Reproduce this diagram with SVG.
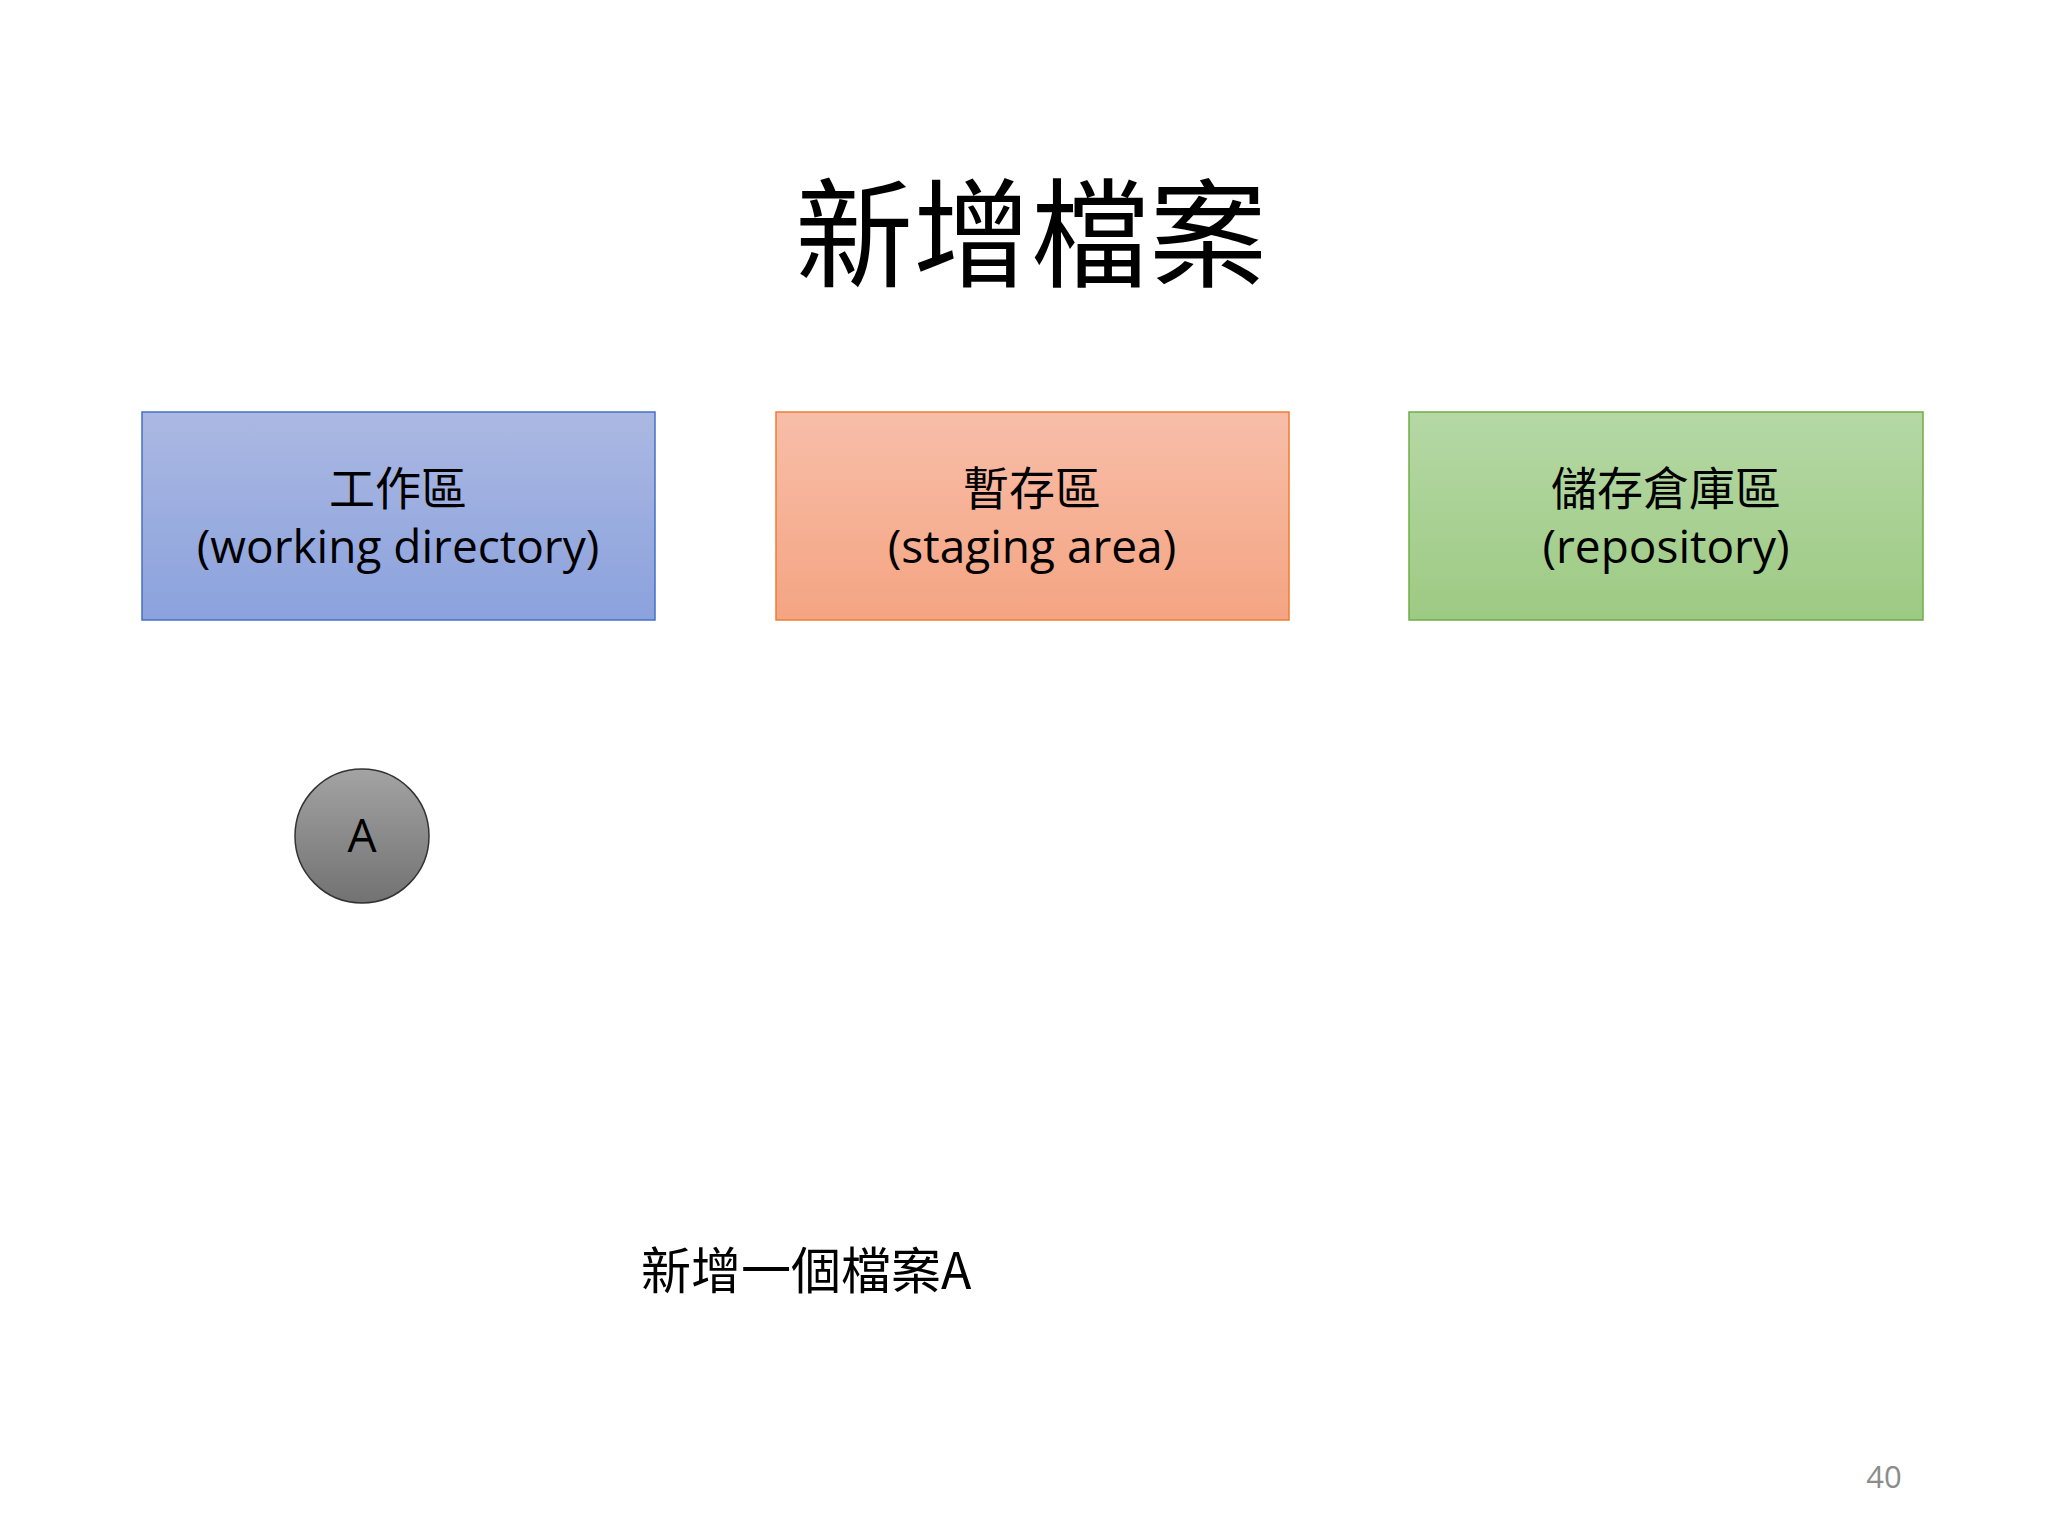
<svg xmlns="http://www.w3.org/2000/svg" width="2048" height="1536" viewBox="0 0 2048 1536">
<style>
.t{font-family:"Noto Sans CJK TC","Liberation Sans",sans-serif;fill:#000}
.b{font-family:"Open Sans","Noto Sans CJK TC",sans-serif;font-size:46px;text-anchor:middle;fill:#000}
</style>
<defs>
<linearGradient id="gb" x1="0" y1="0" x2="0" y2="1"><stop offset="0" stop-color="#abb8e2"/><stop offset="1" stop-color="#8ba2dd"/></linearGradient>
<linearGradient id="go" x1="0" y1="0" x2="0" y2="1"><stop offset="0" stop-color="#f8bea9"/><stop offset="1" stop-color="#f4a482"/></linearGradient>
<linearGradient id="gg" x1="0" y1="0" x2="0" y2="1"><stop offset="0" stop-color="#b5d8a5"/><stop offset="1" stop-color="#9dca83"/></linearGradient>
<linearGradient id="gc" x1="0" y1="0" x2="0" y2="1"><stop offset="0" stop-color="#a3a3a3"/><stop offset="1" stop-color="#727272"/></linearGradient>
</defs>
<rect width="2048" height="1536" fill="#fff"/>
<text class="t" x="1031" y="278" font-size="118" text-anchor="middle">新增檔案</text>
<g id="working"><rect x="142" y="412" width="513" height="208" fill="url(#gb)" stroke="#4472c4" stroke-width="1.5"/>
<text class="b" x="398" y="505">工作區</text><text class="b" x="398" y="563">(working directory)</text></g>
<g id="staging"><rect x="776" y="412" width="513" height="208" fill="url(#go)" stroke="#ed7d31" stroke-width="1.5"/>
<text class="b" x="1032" y="505">暫存區</text><text class="b" x="1032" y="563">(staging area)</text></g>
<g id="repo"><rect x="1409" y="412" width="514" height="208" fill="url(#gg)" stroke="#70ad47" stroke-width="1.5"/>
<text class="b" x="1666" y="505">儲存倉庫區</text><text class="b" x="1666" y="563">(repository)</text></g>
<g id="fileA"><circle cx="362" cy="836" r="67" fill="url(#gc)" stroke="#333" stroke-width="1.5"/>
<text class="b" x="362" y="852" font-size="42">A</text></g>
<g id="connectors"/>
<text class="t" x="641" y="1289" font-size="50">新增一個檔案A</text>
<text x="1884" y="1488" font-size="31" text-anchor="middle" font-family="Open Sans,sans-serif" fill="#8c8c8c">40</text>
</svg>
